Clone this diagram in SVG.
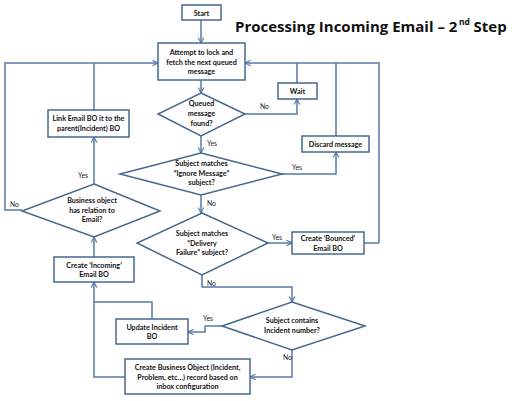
<svg xmlns="http://www.w3.org/2000/svg" width="522" height="401" viewBox="0 0 522 401">
<style>
.box{fill:#fff;stroke:#46688f;stroke-width:1.5}
.c{fill:none;stroke:#557aa6;stroke-width:1.5}
.t{font-family:Lato,"Liberation Sans",sans-serif;font-weight:bold;font-size:7.2px;fill:#111;text-anchor:middle}
.l{font-family:Lato,"Liberation Sans",sans-serif;font-size:6.8px;fill:#222}
.title{font-family:"Open Sans","Liberation Sans",sans-serif;font-weight:bold;font-size:15px;fill:#111}
.sup{font-family:"Open Sans","Liberation Sans",sans-serif;font-weight:bold;font-size:8.5px;fill:#111}
</style>
<defs>
<marker id="a" viewBox="0 0 10 10" refX="9" refY="5" markerWidth="7" markerHeight="7" orient="auto" markerUnits="userSpaceOnUse">
<polyline points="1,1 9,5 1,9" fill="none" stroke="#557aa6" stroke-width="1.6"/>
</marker>
</defs>
<rect width="522" height="401" fill="#fff"/>
<g id="title">
<text class="title" x="235" y="32">Processing Incoming Email – 2</text>
<text class="sup" x="459" y="25">nd</text>
<text class="title" x="473.5" y="32">Step</text>
</g>

<g id="connectors">
<path class="c" d="M201,20 V43" marker-end="url(#a)"/>
<path class="c" d="M201,80 V93" marker-end="url(#a)"/>
<path class="c" d="M245,114 H297 V99" marker-end="url(#a)"/>
<path class="c" d="M297,83 V63"/>
<path class="c" d="M379,243 H364"/>
<path class="c" d="M379,243 V63 H245" marker-end="url(#a)"/>
<path class="c" d="M336,136 V63"/>
<path class="c" d="M201,136 V153" marker-end="url(#a)"/>
<path class="c" d="M282,174 H336 V152" marker-end="url(#a)"/>
<path class="c" d="M201,195 V213" marker-end="url(#a)"/>
<path class="c" d="M268,243 H292" marker-end="url(#a)"/>
<path class="c" d="M202,275 V287 H292 V302" marker-end="url(#a)"/>
<path class="c" d="M222,326 H205 V332 H188" marker-end="url(#a)"/>
<path class="c" d="M292,350 V377 H250" marker-end="url(#a)"/>
<path class="c" d="M152,319 V302 H94"/>
<path class="c" d="M125,377 H94 V282" marker-end="url(#a)"/>
<path class="c" d="M94,257 V237" marker-end="url(#a)"/>
<path class="c" d="M94,184 V137" marker-end="url(#a)"/>
<path class="c" d="M94,110 V63"/>
<path class="c" d="M22,210 H5 V63 H158" marker-end="url(#a)"/>
</g>

<g id="start"><rect class="box" x="182" y="5" width="39" height="15"/><text class="t" x="201.5" y="15.5">Start</text></g>
<g id="fetch"><rect class="box" x="158" y="43" width="87" height="37"/>
<text class="t" x="201.5" y="55">Attempt to lock and</text><text class="t" x="201.5" y="64.5">fetch the next queued</text><text class="t" x="201.5" y="74">message</text></g>
<g id="queued"><polygon class="box" points="201,93 245,114 201,136 158,114"/>
<text class="t" x="201.5" y="106">Queued</text><text class="t" x="201.5" y="116">message</text><text class="t" x="201.5" y="126">found?</text></g>
<g id="wait"><rect class="box" x="278" y="83" width="39" height="16"/><text class="t" x="297.5" y="94">Wait</text></g>
<g id="discard"><rect class="box" x="302" y="136" width="67" height="16"/><text class="t" x="335.5" y="147">Discard message</text></g>
<g id="ignore"><polygon class="box" points="201,153 282,174 201,195 120,174"/>
<text class="t" x="201.5" y="166">Subject matches</text><text class="t" x="201.5" y="175.5">“Ignore Message”</text><text class="t" x="201.5" y="185">subject?</text></g>
<g id="delivery"><polygon class="box" points="202,213 268,243 202,275 137,243"/>
<text class="t" x="202" y="236">Subject matches</text><text class="t" x="202" y="245.5">“Delivery</text><text class="t" x="202" y="255">Failure” subject?</text></g>
<g id="bounced"><rect class="box" x="292" y="232" width="72" height="22"/>
<text class="t" x="328" y="241">Create ‘Bounced’</text><text class="t" x="328" y="250.5">Email BO</text></g>
<g id="incident"><polygon class="box" points="292,302 365,326 292,350 222,326"/>
<text class="t" x="292" y="323">Subject contains</text><text class="t" x="292" y="333">Incident number?</text></g>
<g id="update"><rect class="box" x="116" y="319" width="72" height="25"/>
<text class="t" x="152" y="329.5">Update Incident</text><text class="t" x="152" y="339">BO</text></g>
<g id="createbo"><rect class="box" x="125" y="359" width="125" height="35"/>
<text class="t" x="187.5" y="370">Create Business Object (Incident,</text><text class="t" x="187.5" y="379.5">Problem, etc…) record based on</text><text class="t" x="187.5" y="389">inbox configuration</text></g>
<g id="incoming"><rect class="box" x="54" y="257" width="80" height="25"/>
<text class="t" x="94" y="267.5">Create ‘Incoming’</text><text class="t" x="94" y="277">Email BO</text></g>
<g id="relation"><polygon class="box" points="94,184 160,211 94,237 22,211"/>
<text class="t" x="92" y="203">Business object</text><text class="t" x="92" y="212.5">has relation to</text><text class="t" x="92" y="222">Email?</text></g>
<g id="link"><rect class="box" x="48" y="110" width="81" height="27"/>
<text class="t" x="88.5" y="121">Link Email BO it to the</text><text class="t" x="88.5" y="130.5">parent(Incident) BO</text></g>

<g id="labels">
<text class="l" x="260" y="109">No</text>
<text class="l" x="207" y="146">Yes</text>
<text class="l" x="292" y="170">Yes</text>
<text class="l" x="207" y="206">No</text>
<text class="l" x="272" y="240">Yes</text>
<text class="l" x="207" y="286">No</text>
<text class="l" x="203" y="321">Yes</text>
<text class="l" x="283" y="360">No</text>
<text class="l" x="78" y="178">Yes</text>
<text class="l" x="10" y="207">No</text>
</g>
</svg>
